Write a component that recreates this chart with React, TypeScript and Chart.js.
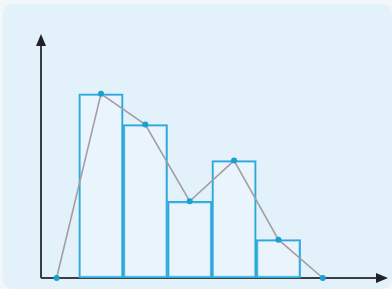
import React, { useEffect, useRef } from "react";
import { Chart, registerables } from "chart.js";

Chart.register(...registerables);

// Histogram bins (centres) and frequencies
const binCentres = [1.5, 2.5, 3.5, 4.5, 5.5];
const frequencies = [24, 20, 10, 15.3, 5];
// Frequency polygon (midpoints incl. empty end bins)
const polygonX = [0.5, 1.5, 2.5, 3.5, 4.5, 5.5, 6.5];
const polygonY = [0, 24, 20, 10, 15.3, 5, 0];
const binEdges = [1, 2, 3, 4, 5, 6];

const axesPlugin = {
  id: "arrowAxes",
  beforeDatasetsDraw(chart: any) {
    const { ctx, chartArea } = chart;
    const { left, right, top, bottom } = chartArea;
    ctx.save();
    ctx.strokeStyle = "#3a3d42";
    ctx.fillStyle = "#1f2226";
    ctx.lineWidth = 2;
    ctx.beginPath();
    ctx.moveTo(left, bottom);
    ctx.lineTo(left, top + 8);
    ctx.moveTo(left, bottom);
    ctx.lineTo(right - 8, bottom);
    ctx.stroke();
    // y arrow
    ctx.beginPath();
    ctx.moveTo(left, top);
    ctx.lineTo(left - 5, top + 12);
    ctx.lineTo(left + 5, top + 12);
    ctx.closePath();
    ctx.fill();
    // x arrow
    ctx.beginPath();
    ctx.moveTo(right, bottom);
    ctx.lineTo(right - 12, bottom - 5);
    ctx.lineTo(right - 12, bottom + 5);
    ctx.closePath();
    ctx.fill();
    ctx.restore();
  },
};

export default function App() {
  const ref = useRef<HTMLCanvasElement>(null);
  useEffect(() => {
    const chart = new Chart(ref.current!, {
      type: "bar",
      data: {
        datasets: [
          {
            type: "line",
            data: polygonX.map((x, i) => ({ x, y: polygonY[i] })),
            borderColor: "#a49ea2",
            borderWidth: 1.6,
            pointRadius: 3,
            pointBackgroundColor: "#1a9fd2",
            pointBorderColor: "#1a9fd2",
            pointBorderWidth: 0,
            clip: false,
            order: 0,
          } as any,
          {
            type: "bar",
            data: binCentres.map((x, i) => ({ x, y: frequencies[i] })),
            backgroundColor: "rgba(240,248,253,0.5)",
            borderColor: "#2ba8dc",
            borderWidth: 1.8,
            borderSkipped: false,
            barPercentage: 1,
            categoryPercentage: 1,
            clip: false,
            order: 1,
          } as any,
        ],
      },
      options: {
        animation: false,
        responsive: false,
        events: [],
        layout: { padding: { left: 41, right: 2, top: 34, bottom: 11 } },
        plugins: { legend: { display: false }, tooltip: { enabled: false } },
        scales: {
          x: {
            type: "linear",
            display: false,
            offset: false,
            grid: { offset: false },
            min: 0.148,
            max: 7.97,
            afterBuildTicks: (s: any) => {
              s.ticks = binEdges.map((v) => ({ value: v }));
            },
          },
          y: { type: "linear", display: false, min: 0, max: 31.8 },
        },
      },
      plugins: [axesPlugin],
    });
    return () => chart.destroy();
  }, []);
  return (
    <div
      style={{
        position: "fixed",
        left: 0,
        top: 0,
        width: 392,
        height: 289,
        background: "#f1f7fb",
      }}
    >
      <div
        style={{
          position: "absolute",
          left: 3,
          top: 4,
          right: 0,
          bottom: 0,
          background: "#e3f1fa",
          borderRadius: 10,
        }}
      />
      <canvas
        ref={ref}
        width={392}
        height={289}
        style={{ position: "absolute", left: 0, top: 0, width: 392, height: 289 }}
      />
    </div>
  );
}
